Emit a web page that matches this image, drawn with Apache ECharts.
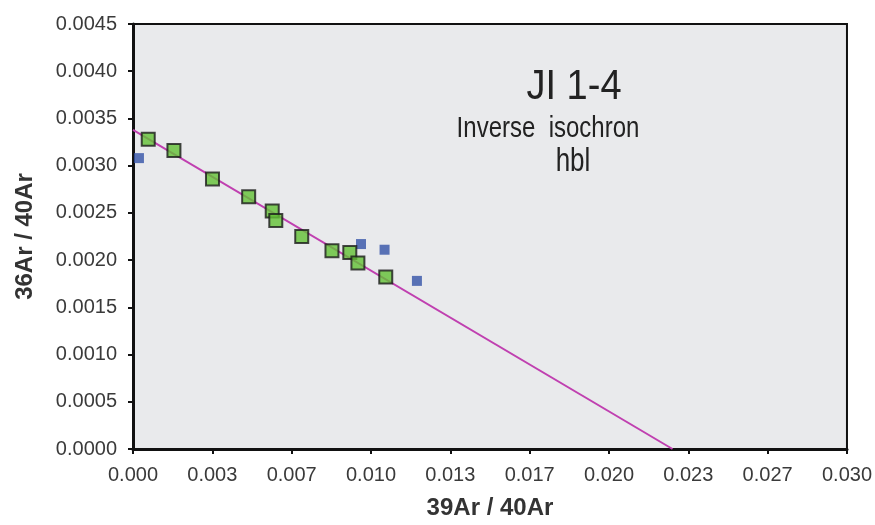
<!DOCTYPE html>
<html><head><meta charset="utf-8">
<script src="https://cdn.jsdelivr.net/npm/echarts@6/dist/echarts.min.js"></script>
<style>html,body{margin:0;padding:0;background:#fff}#c{width:875px;height:525px}</style>
</head><body><div id="c"></div>
<script>
const xTickLabels = ['0.000','0.003','0.007','0.010','0.013','0.017','0.020','0.023','0.027','0.030'];
const yTickLabels = ['0.0000','0.0005','0.0010','0.0015','0.0020','0.0025','0.0030','0.0035','0.0040','0.0045'];
const greenX = [0.00064,0.00172,0.00334,0.00486,0.00585,0.00600,0.00709,0.00836,0.00911,0.00945,0.01062];
const greenY = [0.00328,0.00316,0.00286,0.00267,0.00252,0.00242,0.00225,0.00210,0.00208,0.00197,0.00182];
const blueX = [0.00025,0.00958,0.01057,0.01193];
const blueY = [0.00308,0.00217,0.00211,0.00178];
const fitX = [0, 0.02267];
const fitY = [0.00338, 0];
const titleLines = ['JI 1-4','Inverse  isochron','hbl'];

const zip = (a,b)=>a.map((v,i)=>[v,b[i]]);
const chart = echarts.init(document.getElementById('c'), null, {renderer:'canvas'});
const font = '"Liberation Sans", Arial, sans-serif';
chart.setOption({
  animation:false,
  grid:{left:133,right:28,top:24,bottom:75,show:true,backgroundColor:'#e9eaec',borderColor:'#111',borderWidth:2},
  xAxis:{type:'value',min:0,max:0.03,interval:0.01/3,
    name:'39Ar / 40Ar',nameLocation:'middle',nameGap:47,
    nameTextStyle:{fontFamily:font,fontSize:24,fontWeight:'bold',color:'#333'},
    axisLine:{onZero:false,lineStyle:{color:'#111',width:3}},
    axisTick:{show:true,length:5,lineStyle:{color:'#111',width:2}},
    axisLabel:{fontFamily:font,fontSize:20,color:'#3a3a3a',margin:16,
      formatter:(v,i)=>xTickLabels[i]!==undefined?xTickLabels[i]:''},
    splitLine:{show:false}},
  yAxis:{type:'value',min:0,max:0.0045,interval:0.0005,
    name:'36Ar / 40Ar',nameLocation:'middle',nameGap:96,
    nameTextStyle:{fontFamily:font,fontSize:24,fontWeight:'bold',color:'#333'},
    axisLine:{onZero:false,lineStyle:{color:'#111',width:3}},
    axisTick:{show:true,length:5,lineStyle:{color:'#111',width:2}},
    axisLabel:{fontFamily:font,fontSize:20,color:'#3a3a3a',margin:16,
      formatter:(v,i)=>yTickLabels[i]!==undefined?yTickLabels[i]:''},
    splitLine:{show:false}},
  graphic:[
    {type:'text',x:574,y:87,scaleY:1.1,style:{text:titleLines[0],x:0,y:0,textAlign:'center',textVerticalAlign:'middle',font:'38px '+font,fill:'#222'}},
    {type:'text',x:548,y:129,scaleY:1.25,style:{text:titleLines[1],x:0,y:0,textAlign:'center',textVerticalAlign:'middle',font:'24px '+font,fill:'#222'}},
    {type:'text',x:573,y:162,scaleY:1.25,style:{text:titleLines[2],x:0,y:0,textAlign:'center',textVerticalAlign:'middle',font:'26px '+font,fill:'#222'}}
  ],
  series:[
    {type:'line',data:zip(fitX,fitY),symbol:'none',lineStyle:{color:'#c040b0',width:2},z:2},
    {type:'scatter',data:zip(blueX,blueY),symbol:'rect',symbolSize:10,itemStyle:{color:'#3352a8'},z:3},
    {type:'scatter',data:zip(greenX,greenY),symbol:'rect',symbolSize:13,itemStyle:{color:'#62c034',borderColor:'#1a1a1a',borderWidth:2},z:4}
  ]
});
</script></body></html>
